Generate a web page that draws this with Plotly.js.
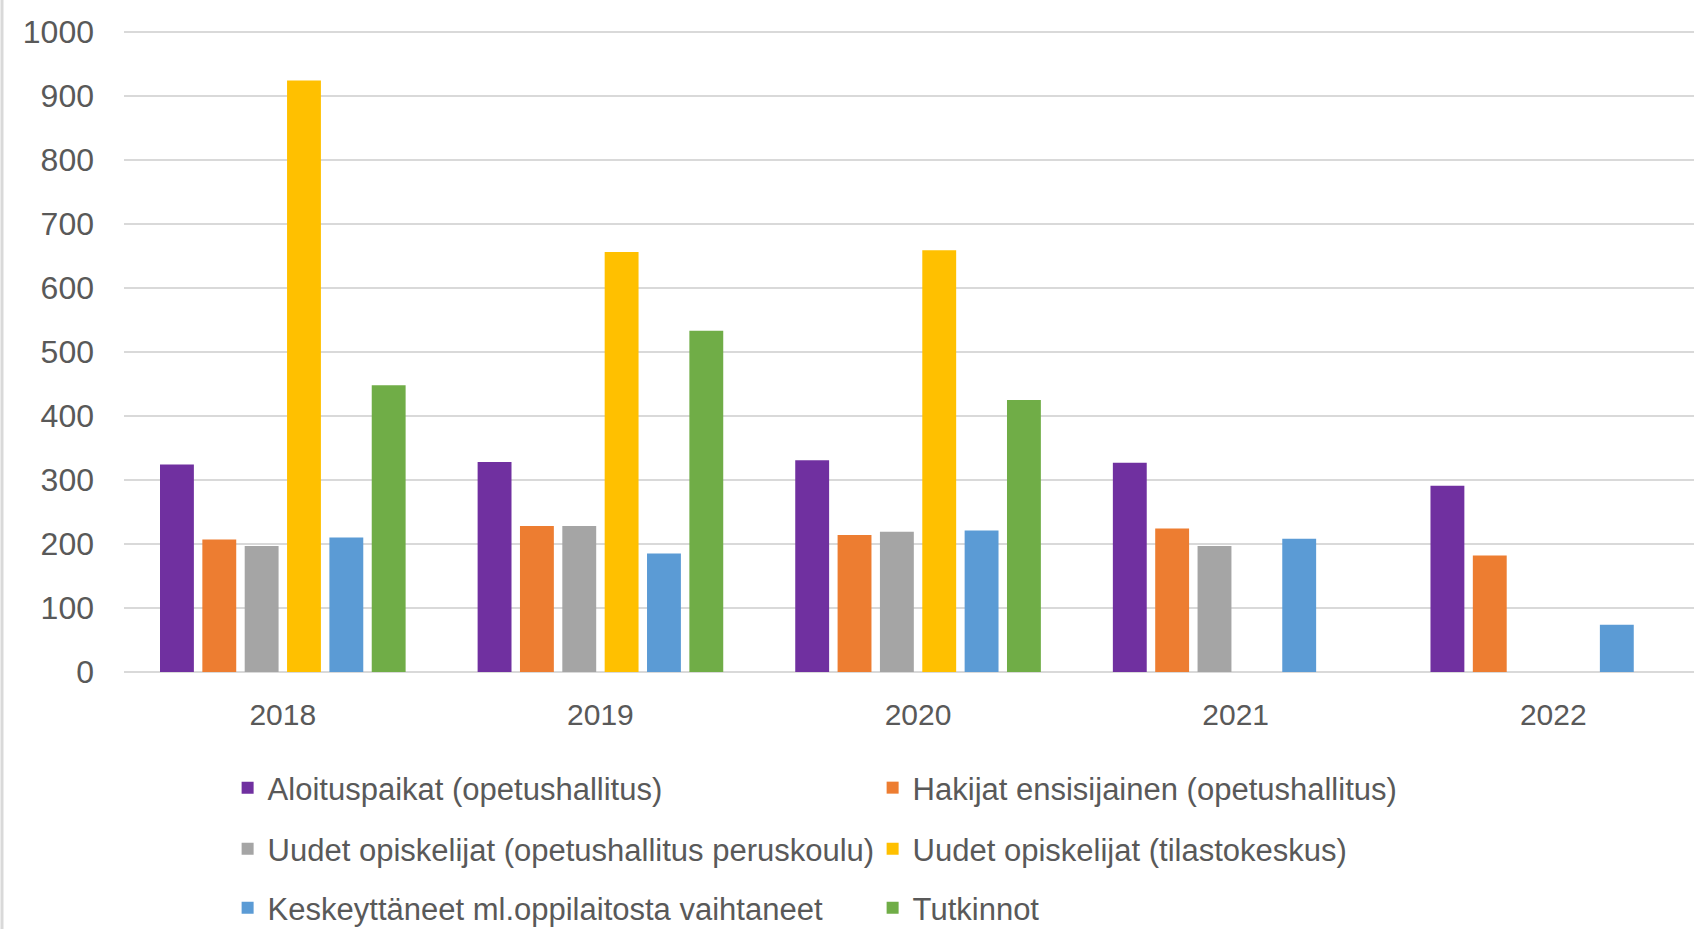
<!DOCTYPE html>
<html>
<head>
<meta charset="utf-8">
<script src="https://cdn.plot.ly/plotly-3.0.1.min.js"></script>
<style>
  html, body { margin: 0; padding: 0; background: #ffffff; }
  #chart { width: 1694px; height: 929px; }
</style>
</head>
<body>
<div id="chart"></div>
<script>
const years = ['2018', '2019', '2020', '2021', '2022'];

const seriesNames = [
  'Aloituspaikat (opetushallitus)',
  'Hakijat ensisijainen (opetushallitus)',
  'Uudet opiskelijat (opetushallitus peruskoulu)',
  'Uudet opiskelijat (tilastokeskus)',
  'Keskeyttäneet ml.oppilaitosta vaihtaneet',
  'Tutkinnot'
];

const aloituspaikat = [324, 328, 331, 327, 291];
const hakijat = [207, 228, 214, 224, 182];
const uudetPeruskoulu = [197, 228, 219, 197, null];
const uudetTilasto = [924, 656, 659, null, null];
const keskeyttaneet = [210, 185, 221, 208, 74];
const tutkinnot = [448, 533, 425, null, null];

const seriesValues = [aloituspaikat, hakijat, uudetPeruskoulu, uudetTilasto, keskeyttaneet, tutkinnot];
const seriesColors = ['#7030A0', '#ED7D31', '#A5A5A5', '#FFC000', '#5B9BD5', '#70AD47'];
const legendIds = ['legend', 'legend', 'legend2', 'legend2', 'legend3', 'legend3'];

const yTicks = [0, 100, 200, 300, 400, 500, 600, 700, 800, 900, 1000];

const textColor = '#595959';
const gridColor = '#D9D9D9';
const fontFamily = '"Liberation Sans", Arial, sans-serif';

const traces = seriesNames.map((name, i) => ({
  type: 'bar',
  name: name,
  x: years,
  y: seriesValues[i],
  marker: { color: seriesColors[i], line: { width: 0 } },
  legend: legendIds[i],
  hoverinfo: 'skip'
}));

// plot area: top 30px, bottom at 672px, 642px for 1003 units
const plotTop = 30, plotBottom = 672, plotH = plotBottom - plotTop;
function rowY(pxCenter) { return (plotBottom - pxCenter) / plotH; }

const legendBase = {
  orientation: 'h',
  xanchor: 'left',
  yanchor: 'middle',
  x: 0.066,
  entrywidthmode: 'pixels',
  entrywidth: 600,
  font: { family: fontFamily, size: 31, color: textColor },
  bgcolor: 'rgba(0,0,0,0)',
  borderwidth: 0,
  traceorder: 'normal'
};

const layout = {
  width: 1694,
  height: 929,
  margin: { l: 124, r: 0, t: plotTop, b: 929 - plotBottom, autoexpand: false },
  paper_bgcolor: '#ffffff',
  plot_bgcolor: '#ffffff',
  barmode: 'group',
  bargap: 0.2,
  bargroupgap: 0.2,
  showlegend: true,
  xaxis: {
    type: 'category',
    range: [-0.5, 4.443],
    showgrid: false,
    zeroline: false,
    showline: false,
    ticks: '',
    ticklabelstandoff: 22,
    tickfont: { family: fontFamily, size: 30, color: textColor },
    fixedrange: true
  },
  yaxis: {
    range: [0, 1003],
    tickvals: yTicks,
    ticktext: yTicks.map(String),
    showgrid: true,
    gridcolor: gridColor,
    gridwidth: 2,
    zeroline: true,
    zerolinecolor: gridColor,
    zerolinewidth: 2,
    showline: false,
    ticks: '',
    ticklabelstandoff: 29,
    tickfont: { family: fontFamily, size: 32, color: textColor },
    fixedrange: true
  },
  legend: Object.assign({}, legendBase, { y: rowY(788) }),
  legend2: Object.assign({}, legendBase, { y: rowY(849) }),
  legend3: Object.assign({}, legendBase, { y: rowY(908) }),
  shapes: [{
    type: 'line',
    xref: 'paper', yref: 'paper',
    x0: -0.0777, x1: -0.0777,
    y0: -0.42, y1: 1.06,
    line: { color: gridColor, width: 3 }
  }]
};

Plotly.newPlot('chart', traces, layout, { displayModeBar: false, staticPlot: true });
</script>
</body>
</html>
